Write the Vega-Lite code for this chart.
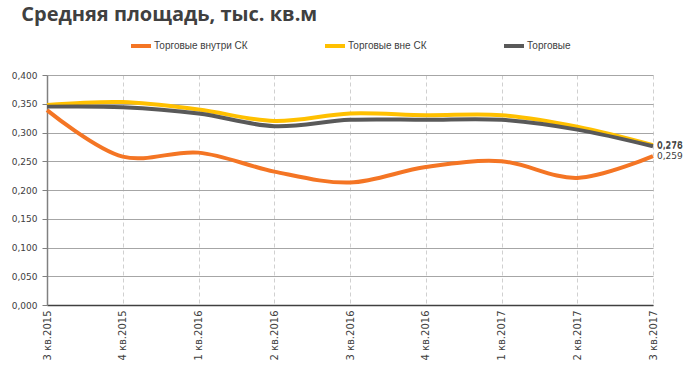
{
  "$schema": "https://vega.github.io/schema/vega-lite/v6.json",
  "width": 606,
  "height": 230,
  "autosize": {"type": "none"},
  "padding": {"left": 47, "top": 75, "right": 47, "bottom": 62},
  "background": "white",
  "config": {
    "locale": {"number": {"decimal": ",", "thousands": " ", "grouping": [3], "currency": ["", ""]}},
    "view": {"stroke": null}
  },
  "title": {
    "text": "Средняя площадь, тыс. кв.м",
    "anchor": "start",
    "font": "Open Sans",
    "fontSize": 20,
    "fontWeight": "bold",
    "color": "#404040",
    "dx": 10,
    "dy": -5
  },
  "data": {
    "values": [
      {"q": "3 кв.2015", "s": "Торговые внутри СК", "v": 0.339},
      {"q": "4 кв.2015", "s": "Торговые внутри СК", "v": 0.258},
      {"q": "1 кв.2016", "s": "Торговые внутри СК", "v": 0.265},
      {"q": "2 кв.2016", "s": "Торговые внутри СК", "v": 0.232},
      {"q": "3 кв.2016", "s": "Торговые внутри СК", "v": 0.213},
      {"q": "4 кв.2016", "s": "Торговые внутри СК", "v": 0.240},
      {"q": "1 кв.2017", "s": "Торговые внутри СК", "v": 0.250},
      {"q": "2 кв.2017", "s": "Торговые внутри СК", "v": 0.221},
      {"q": "3 кв.2017", "s": "Торговые внутри СК", "v": 0.259},
      {"q": "3 кв.2015", "s": "Торговые вне СК", "v": 0.348},
      {"q": "4 кв.2015", "s": "Торговые вне СК", "v": 0.353},
      {"q": "1 кв.2016", "s": "Торговые вне СК", "v": 0.340},
      {"q": "2 кв.2016", "s": "Торговые вне СК", "v": 0.320},
      {"q": "3 кв.2016", "s": "Торговые вне СК", "v": 0.333},
      {"q": "4 кв.2016", "s": "Торговые вне СК", "v": 0.330},
      {"q": "1 кв.2017", "s": "Торговые вне СК", "v": 0.330},
      {"q": "2 кв.2017", "s": "Торговые вне СК", "v": 0.310},
      {"q": "3 кв.2017", "s": "Торговые вне СК", "v": 0.278},
      {"q": "3 кв.2015", "s": "Торговые", "v": 0.345},
      {"q": "4 кв.2015", "s": "Торговые", "v": 0.344},
      {"q": "1 кв.2016", "s": "Торговые", "v": 0.333},
      {"q": "2 кв.2016", "s": "Торговые", "v": 0.311},
      {"q": "3 кв.2016", "s": "Торговые", "v": 0.322},
      {"q": "4 кв.2016", "s": "Торговые", "v": 0.322},
      {"q": "1 кв.2017", "s": "Торговые", "v": 0.322},
      {"q": "2 кв.2017", "s": "Торговые", "v": 0.305},
      {"q": "3 кв.2017", "s": "Торговые", "v": 0.276}
    ]
  },
  "encoding": {
    "x": {
      "field": "q",
      "type": "ordinal",
      "sort": null,
      "scale": {"type": "point", "padding": 0},
      "axis": {
        "title": null,
        "labelAngle": -90,
        "labelBaseline": "middle",
        "labelFont": "DejaVu Sans",
        "labelFontSize": 10,
        "labelColor": "#404040",
        "labelPadding": 5,
        "domainColor": "#404040",
        "domainWidth": 1.5,
        "tickColor": "#404040",
        "tickSize": 0,
        "grid": true,
        "gridColor": "#d0d0d0",
        "gridDash": [4, 3],
        "gridWidth": 1
      }
    },
    "y": {
      "field": "v",
      "type": "quantitative",
      "scale": {"domain": [0, 0.4], "nice": false},
      "axis": {
        "title": null,
        "values": [0, 0.05, 0.1, 0.15, 0.2, 0.25, 0.3, 0.35, 0.4],
        "format": ".3f",
        "labelFont": "DejaVu Sans",
        "labelFontSize": 9,
        "labelColor": "#404040",
        "labelPadding": 5,
        "domainColor": "#808080",
        "domainWidth": 1.5,
        "tickColor": "#808080",
        "tickSize": 5,
        "gridColor": "#a6a6a6",
        "gridWidth": 1.2
      }
    },
    "color": {
      "field": "s",
      "type": "nominal",
      "sort": ["Торговые внутри СК", "Торговые вне СК", "Торговые"],
      "scale": {
        "domain": ["Торговые внутри СК", "Торговые вне СК", "Торговые"],
        "range": ["#F47524", "#FFC000", "#595959"]
      },
      "legend": {
        "title": null,
        "orient": "none",
        "legendX": 82,
        "legendY": -41,
        "direction": "horizontal",
        "columns": 3,
        "columnPadding": 69,
        "gridAlign": "none",
        "symbolType": "stroke",
        "symbolSize": 400,
        "symbolStrokeWidth": 4,
        "labelFont": "Liberation Sans",
        "labelFontSize": 10,
        "labelColor": "#404040",
        "labelOffset": 1
      }
    }
  },
  "layer": [
    {
      "mark": {"type": "line", "interpolate": "catmull-rom", "strokeWidth": 4}
    },
    {
      "transform": [{"filter": "datum.q == '3 кв.2017'"}],
      "mark": {"type": "text", "align": "left", "dx": 4, "font": "DejaVu Sans", "fontSize": 9},
      "encoding": {
        "text": {"field": "v", "type": "quantitative", "format": ".3f"},
        "color": {"value": "#404040"}
      }
    }
  ]
}
